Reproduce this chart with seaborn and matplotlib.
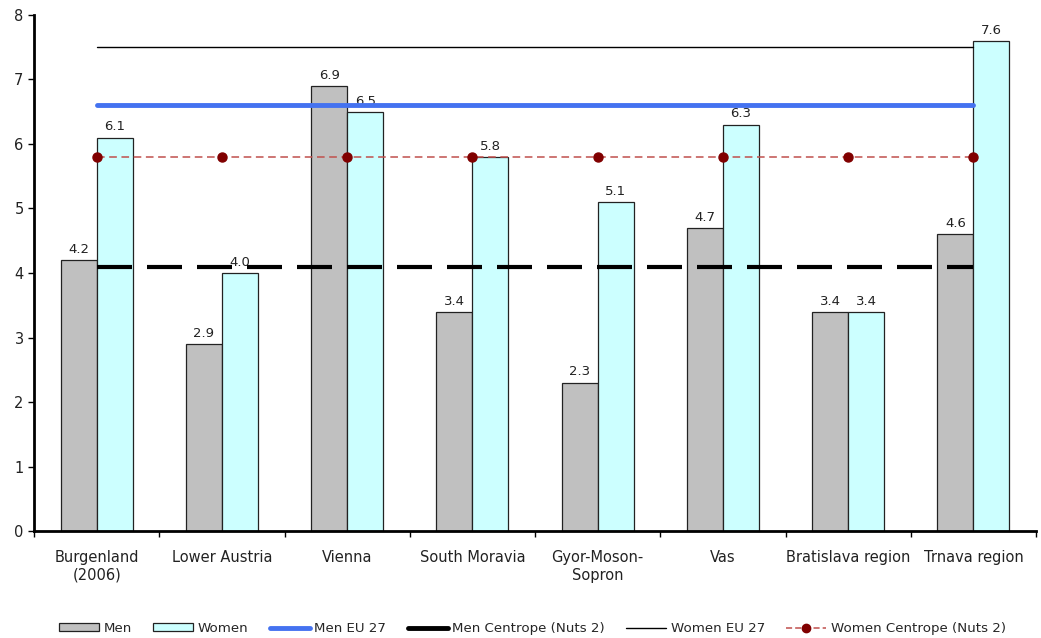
import numpy as np
import pandas as pd
import matplotlib
matplotlib.use("Agg")
import matplotlib.pyplot as plt
import seaborn as sns
from matplotlib.patches import Patch
from matplotlib.lines import Line2D

categories = ["Burgenland\n(2006)", "Lower Austria", "Vienna", "South Moravia",
              "Gyor-Moson-\nSopron", "Vas", "Bratislava region", "Trnava region"]
men = [4.2, 2.9, 6.9, 3.4, 2.3, 4.7, 3.4, 4.6]
women = [6.1, 4.0, 6.5, 5.8, 5.1, 6.3, 3.4, 7.6]
men_eu27 = [6.6] * 8
women_eu27 = [7.5] * 8
men_centrope = [4.1] * 8
women_centrope = [5.8] * 8
y_ticks = [0, 1, 2, 3, 4, 5, 6, 7, 8]

sns.set_theme(style="white")
plt.rcParams['font.family'] = ['DejaVu Sans']

df = pd.DataFrame({
    "region": categories * 2,
    "value": men + women,
    "sex": ["Men"] * len(categories) + ["Women"] * len(categories),
})

fig = plt.figure(figsize=(10.41, 6.38), dpi=100)
ax = fig.add_axes([0.0327, 0.1677, 0.9625, 0.8088])

sns.barplot(data=df, x="region", y="value", hue="sex", order=categories,
            hue_order=["Men", "Women"], palette={"Men": "#C0C0C0", "Women": "#CCFFFF"},
            width=0.575, edgecolor="#222222", linewidth=0.9, ax=ax, legend=False,
            errorbar=None, saturation=1)

for cont in ax.containers:
    ax.bar_label(cont, fmt="%.1f", padding=3, fontsize=9.5, color="#222222")

xs = np.arange(len(categories))
ax.plot(xs, women_eu27, color="black", lw=1.0, zorder=5)
ax.plot(xs, men_eu27, color="#4472F0", lw=3.5, zorder=5)
ax.plot(xs, men_centrope, color="black", lw=3.0, dashes=(8.4, 3.6), zorder=5)
ax.plot(xs, women_centrope, color="#C0504D", lw=1.1, dashes=(5, 3), marker="o",
        markersize=6.5, markerfacecolor="#800000", markeredgecolor="#800000", zorder=6)

ax.set_xlim(-0.5, len(categories) - 0.5)
ax.set_ylim(0, 8)
ax.set_yticks(y_ticks)
ax.set_xlabel("")
ax.set_ylabel("")
ax.set_xticks(xs)
ax.set_xticklabels(categories, fontsize=10.5, color="#222222")
ax.set_xticks(np.arange(len(categories) + 1) - 0.5, minor=True)
ax.tick_params(axis="x", which="major", length=0, pad=14)
ax.tick_params(axis="x", which="minor", length=4, width=1, color="black", direction="out", bottom=True)
ax.tick_params(axis="y", length=4, width=1, color="black", direction="out", left=True, labelsize=10.5, labelcolor="#222222")
for s in ["top", "right"]:
    ax.spines[s].set_visible(False)
for s in ["left", "bottom"]:
    ax.spines[s].set_color("black")
    ax.spines[s].set_linewidth(2)

handles = [
    Patch(facecolor="#C0C0C0", edgecolor="#222222", lw=0.9, label="Men"),
    Patch(facecolor="#CCFFFF", edgecolor="#222222", lw=0.9, label="Women"),
    Line2D([], [], color="#4472F0", lw=3.5, label="Men EU 27"),
    Line2D([], [], color="black", lw=3.5, label="Men Centrope (Nuts 2)"),
    Line2D([], [], color="black", lw=1.0, label="Women EU 27"),
    Line2D([], [], color="#C0504D", lw=1.1, dashes=(4, 2), marker="o", markersize=6,
           markerfacecolor="#800000", markeredgecolor="#800000", label="Women Centrope (Nuts 2)"),
]
fig.legend(handles=handles, loc="center", bbox_to_anchor=(0.5115, 0.015), ncol=6,
           frameon=False, fontsize=9.6, handlelength=3.0, columnspacing=1.6,
           handletextpad=0.35, handleheight=0.55, prop={"size": 9.6})

fig.savefig("out.png", dpi=100)
